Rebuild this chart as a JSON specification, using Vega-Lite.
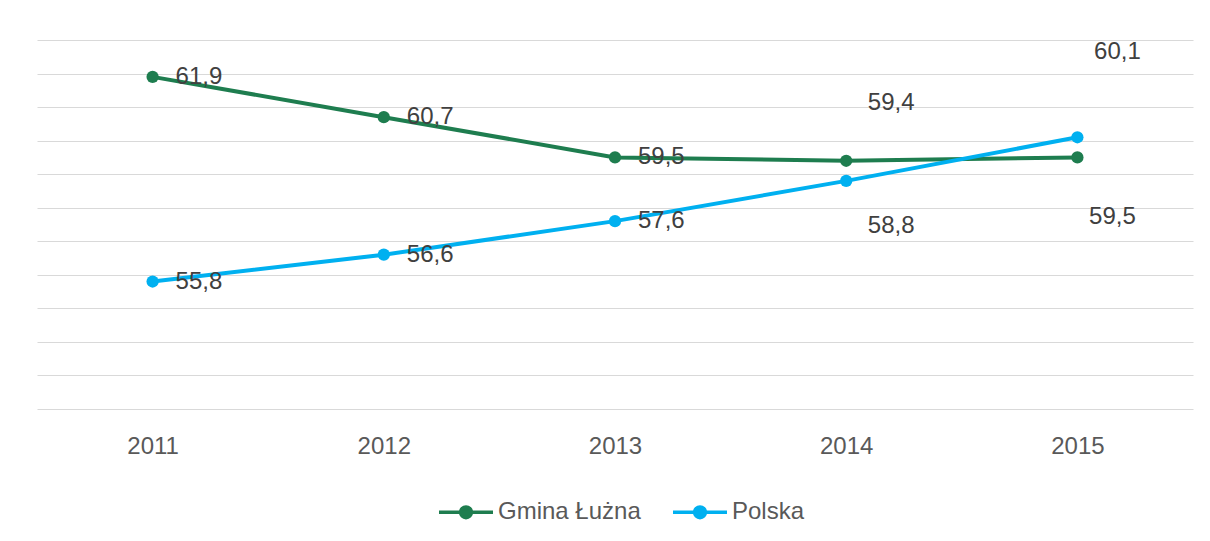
{
  "$schema": "https://vega.github.io/schema/vega-lite/v6.json",
  "width": 1156,
  "height": 369,
  "autosize": {"type": "none"},
  "padding": {"left": 37, "top": 40, "right": 17, "bottom": 132},
  "background": "#ffffff",
  "data": {
    "values": [
      {"year": "2011", "series": "Gmina Łużna", "value": 61.9},
      {"year": "2012", "series": "Gmina Łużna", "value": 60.7},
      {"year": "2013", "series": "Gmina Łużna", "value": 59.5},
      {"year": "2014", "series": "Gmina Łużna", "value": 59.4},
      {"year": "2015", "series": "Gmina Łużna", "value": 59.5},
      {"year": "2011", "series": "Polska", "value": 55.8},
      {"year": "2012", "series": "Polska", "value": 56.6},
      {"year": "2013", "series": "Polska", "value": 57.6},
      {"year": "2014", "series": "Polska", "value": 58.8},
      {"year": "2015", "series": "Polska", "value": 60.1}
    ]
  },
  "encoding": {
    "x": {
      "field": "year",
      "type": "ordinal",
      "scale": {"type": "point", "padding": 0.5},
      "axis": {
        "title": null,
        "labelAngle": 0,
        "domain": false,
        "ticks": false,
        "grid": false,
        "labelFontSize": 24,
        "labelColor": "#595959",
        "labelPadding": 25,
        "labelFont": "Liberation Sans"
      }
    },
    "y": {
      "field": "value",
      "type": "quantitative",
      "scale": {"domain": [52, 63], "nice": false, "zero": false},
      "axis": {
        "title": null,
        "labels": false,
        "ticks": false,
        "domain": false,
        "grid": true,
        "gridColor": "#D9D9D9",
        "gridWidth": 1,
        "values": [52, 53, 54, 55, 56, 57, 58, 59, 60, 61, 62, 63]
      }
    },
    "color": {
      "field": "series",
      "type": "nominal",
      "scale": {"domain": ["Gmina Łużna", "Polska"], "range": ["#1E7D4F", "#00B0F0"]},
      "legend": {
        "title": null,
        "orient": "none",
        "legendX": 400,
        "legendY": 443,
        "direction": "horizontal",
        "labelFontSize": 24,
        "labelColor": "#595959",
        "labelFont": "Liberation Sans",
        "labelOffset": 3,
        "columnPadding": 25,
        "symbolType": "M-1,0L1,0M-0.2,0A0.2,0.2,0,1,1,0.2,0A0.2,0.2,0,1,1,-0.2,0Z",
        "symbolSize": 2916,
        "symbolStrokeWidth": 3.5,
        "encode": {
          "symbols": {
            "update": {
              "fill": {"scale": "color", "field": "value"},
              "stroke": {"scale": "color", "field": "value"},
              "opacity": {"value": 1}
            }
          }
        }
      }
    }
  },
  "layer": [
    {"mark": {"type": "line", "strokeWidth": 4}},
    {"mark": {"type": "point", "filled": true, "size": 150, "opacity": 1}},
    {
      "transform": [{"filter": "datum.year == '2011' || datum.year == '2012' || datum.year == '2013'"}],
      "mark": {"type": "text", "align": "left", "baseline": "middle", "dx": 23, "fontSize": 24, "font": "Liberation Sans"},
      "encoding": {"text": {"field": "value", "type": "quantitative", "format": ".1f"}, "color": {"value": "#404040"}}
    },
    {
      "transform": [{"filter": "datum.year == '2014' && datum.series == 'Gmina Łużna'"}],
      "mark": {"type": "text", "align": "center", "baseline": "middle", "dx": 45, "dy": -58, "fontSize": 24, "font": "Liberation Sans"},
      "encoding": {"text": {"field": "value", "type": "quantitative", "format": ".1f"}, "color": {"value": "#404040"}}
    },
    {
      "transform": [{"filter": "datum.year == '2014' && datum.series == 'Polska'"}],
      "mark": {"type": "text", "align": "center", "baseline": "middle", "dx": 45, "dy": 45, "fontSize": 24, "font": "Liberation Sans"},
      "encoding": {"text": {"field": "value", "type": "quantitative", "format": ".1f"}, "color": {"value": "#404040"}}
    },
    {
      "transform": [{"filter": "datum.year == '2015' && datum.series == 'Polska'"}],
      "mark": {"type": "text", "align": "center", "baseline": "middle", "dx": 40, "dy": -85, "fontSize": 24, "font": "Liberation Sans"},
      "encoding": {"text": {"field": "value", "type": "quantitative", "format": ".1f"}, "color": {"value": "#404040"}}
    },
    {
      "transform": [{"filter": "datum.year == '2015' && datum.series == 'Gmina Łużna'"}],
      "mark": {"type": "text", "align": "center", "baseline": "middle", "dx": 35, "dy": 60, "fontSize": 24, "font": "Liberation Sans"},
      "encoding": {"text": {"field": "value", "type": "quantitative", "format": ".1f"}, "color": {"value": "#404040"}}
    }
  ],
  "config": {
    "view": {"stroke": null},
    "locale": {
      "number": {"decimal": ",", "thousands": " ", "grouping": [3], "currency": ["", " zł"]}
    }
  }
}
